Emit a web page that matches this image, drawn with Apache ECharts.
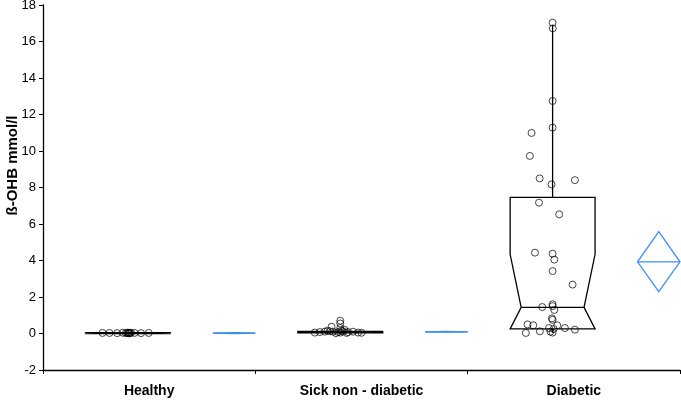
<!DOCTYPE html>
<html>
<head>
<meta charset="utf-8">
<script src="https://cdn.jsdelivr.net/npm/echarts@6/dist/echarts.min.js"></script>
<style>
  html, body { margin: 0; padding: 0; background: #fff; }
  #chart { width: 681px; height: 400px; }
</style>
</head>
<body>
<div id="chart"></div>
<script>
// categories
const categories = ['Healthy', 'Sick non - diabetic', 'Diabetic'];

// box stats per group: [min, q1, notchLow, median, notchHigh, q3, max]
const healthyBox = [0, 0, 0, 0.02, 0.04, 0.05, 0.05];
const sickBox = [0.02, 0.03, 0.05, 0.07, 0.09, 0.12, 0.12];
const diabeticBox = [0.03, 0.25, -1.48, 1.43, 4.34, 7.46, 16.9];

// mean diamonds: [low, mean, high]
const healthyMean = [0.0, 0.02, 0.04];
const sickMean = [0.07, 0.09, 0.11];
const diabeticMean = [2.29, 3.93, 5.58];

// individual points: jitter (in category widths) and value
const healthyJitter = [-0.12, -0.087, -0.051, -0.024, -0.01, -0.004, 0, 0.005, 0.007, 0.01, 0.015, 0.031, 0.062, 0.098];
const healthyValues = [0.03, 0.03, 0.02, 0.04, 0.02, 0.03, 0.05, 0.01, 0.02, 0.03, 0.04, 0.03, 0.02, 0.03];

const sickJitter = [-0.12, -0.096, -0.073, -0.06, -0.049, -0.041, -0.034, -0.01, 0, 0, 0, 0.001, 0.005, 0.013, 0.02, 0.037, 0.06, 0.084, 0.1, -0.02, 0.03];
const sickValues = [0.05, 0.08, 0.1, 0.15, 0.12, 0.37, 0.1, 0.08, 0.7, 0.55, 0.3, 0.05, 0.15, 0.12, 0.2, 0.08, 0.1, 0.05, 0.04, 0.02, 0.03];

const diabeticJitter = [0, 0.001, 0, 0, -0.099, -0.107, -0.061, 0.105, -0.005, -0.064, 0.031, -0.083, 0, 0.008, 0, 0.094, 0, 0, -0.049, 0.008, -0.003, 0, -0.118, -0.091, 0.022, 0.058, 0.105, -0.017, -0.126, -0.06, -0.01, 0, 0.005];
const diabeticValues = [17.03, 16.72, 12.74, 11.28, 10.99, 9.73, 8.5, 8.4, 8.17, 7.17, 6.53, 4.43, 4.37, 4.05, 3.42, 2.68, 1.6, 1.5, 1.45, 1.29, 0.83, 0.75, 0.5, 0.45, 0.45, 0.3, 0.21, 0.3, 0.03, 0.12, 0.1, 0.05, 0.25];

// y ticks
const yMin = -2, yMax = 18, yStep = 2;

// layout within each category (units of category width)
const BOX_POS = 0.4, BOX_W = 0.4, NOTCH_RATIO = 0.74;
const DIA_POS = 0.9, DIA_W = 0.2;
const DIAMOND_COLOR = '#3b8ff0';

const boxes = [healthyBox, sickBox, diabeticBox];
const means = [healthyMean, sickMean, diabeticMean];
const jitters = [healthyJitter, sickJitter, diabeticJitter];
const values = [healthyValues, sickValues, diabeticValues];

const boxData = boxes.map((b, i) => [i + BOX_POS].concat(b));
const meanData = means.map((m, i) => [i + DIA_POS].concat(m));
const pointData = [];
values.forEach((vals, i) => {
  vals.forEach((v, k) => pointData.push([i + BOX_POS + jitters[i][k], v]));
});

function renderBox(params, api) {
  const cx = api.value(0);
  const min = api.value(1), q1 = api.value(2), nLow = Math.max(api.value(3), q1);
  const med = api.value(4), nHigh = Math.min(api.value(5), api.value(6));
  const q3 = api.value(6), max = api.value(7);
  const w = BOX_W / 2, nw = w * NOTCH_RATIO;
  const p = (x, y) => api.coord([x, y]);
  const poly = [
    p(cx - w, q3), p(cx - w, nHigh), p(cx - nw, med), p(cx - w, nLow), p(cx - w, q1),
    p(cx + w, q1), p(cx + w, nLow), p(cx + nw, med), p(cx + w, nHigh), p(cx + w, q3)
  ];
  const st = { stroke: '#000', lineWidth: 1.3, fill: 'none' };
  const top = p(cx, q3), whiskTop = p(cx, max);
  const bot = p(cx, q1), whiskBot = p(cx, min);
  const mL = p(cx - nw, med), mR = p(cx + nw, med);
  return {
    type: 'group',
    children: [
      { type: 'polygon', shape: { points: poly }, style: st },
      { type: 'line', shape: { x1: mL[0], y1: mL[1], x2: mR[0], y2: mR[1] }, style: st },
      { type: 'line', shape: { x1: top[0], y1: top[1], x2: whiskTop[0], y2: whiskTop[1] }, style: st },
      { type: 'line', shape: { x1: bot[0], y1: bot[1], x2: whiskBot[0], y2: whiskBot[1] }, style: st }
    ]
  };
}

function renderDiamond(params, api) {
  const cx = api.value(0);
  const lo = api.value(1), mean = api.value(2), hi = api.value(3);
  const w = DIA_W / 2;
  const p = (x, y) => api.coord([x, y]);
  const st = { stroke: DIAMOND_COLOR, lineWidth: 1.3, fill: 'none' };
  const l = p(cx - w, mean), r = p(cx + w, mean);
  return {
    type: 'group',
    children: [
      { type: 'polygon', shape: { points: [p(cx, hi), r, p(cx, lo), l] }, style: st },
      { type: 'line', shape: { x1: l[0], y1: l[1], x2: r[0], y2: r[1] }, style: st }
    ]
  };
}

const chart = echarts.init(document.getElementById('chart'), null, { renderer: 'canvas' });
const font = 'Liberation Sans, Arial, sans-serif';
chart.setOption({
  animation: false,
  backgroundColor: '#fff',
  grid: { left: 43, right: 1, top: 5, bottom: 30, containLabel: false, outerBoundsMode: 'none' },
  xAxis: [{
    type: 'category',
    data: categories,
    boundaryGap: true,
    axisLine: { onZero: false, lineStyle: { color: '#000', width: 1.3 } },
    axisTick: { show: true, length: 4, lineStyle: { color: '#000' } },
    axisLabel: { color: '#000', fontFamily: font, fontWeight: 'bold', fontSize: 14, margin: 14 },
    splitLine: { show: false }
  }, {
    type: 'value', min: 0, max: 3, show: false
  }],
  yAxis: {
    type: 'value', min: yMin, max: yMax, interval: yStep,
    name: 'ß-OHB mmol/l',
    nameLocation: 'middle', nameGap: 23, nameMoveOverlap: false,
    nameTextStyle: { color: '#000', fontFamily: font, fontWeight: 'bold', fontSize: 15, padding: [0, 0, 0, 44] },
    axisLine: { show: true, onZero: false, lineStyle: { color: '#000', width: 1.3 } },
    axisTick: { show: true, length: 4, lineStyle: { color: '#000' } },
    axisLabel: { color: '#000', fontFamily: font, fontSize: 13, margin: 7 },
    splitLine: { show: false }
  },
  series: [{
    type: 'custom', xAxisIndex: 1, yAxisIndex: 0,
    renderItem: renderBox, data: boxData, z: 2, silent: true
  }, {
    type: 'custom', xAxisIndex: 1, yAxisIndex: 0,
    renderItem: renderDiamond, data: meanData, z: 2, silent: true
  }, {
    type: 'scatter', xAxisIndex: 1, yAxisIndex: 0,
    data: pointData, symbol: 'circle', symbolSize: 7,
    itemStyle: { color: 'rgba(0,0,0,0)', borderColor: '#000', borderWidth: 0.9 },
    z: 3, silent: true
  }]
});
</script>
</body>
</html>
